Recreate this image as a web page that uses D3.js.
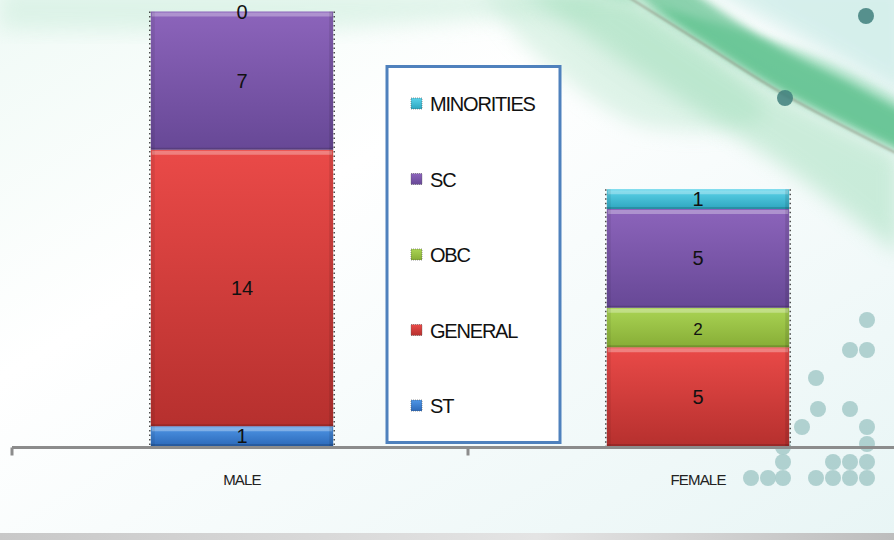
<!DOCTYPE html>
<html>
<head>
<meta charset="utf-8">
<script src="https://cdn.jsdelivr.net/npm/d3@7"></script>
<style>
  body { margin: 0; background: #fff; }
  svg { display: block; font-family: "Liberation Sans", Arial, sans-serif; }
</style>
</head>
<body>
<div id="chart"></div>
<script>
// chart data
const categories = ["MALE", "FEMALE"];
const groups = ["ST", "GENERAL", "OBC", "SC", "MINORITIES"];   // bottom to top
const stValues = [1, null];
const generalValues = [14, 5];
const obcValues = [null, 2];
const scValues = [7, 5];
const minorityValues = [0, 1];

const seriesValues = [stValues, generalValues, obcValues, scValues, minorityValues];

const groupColors = {
  ST:         ["#4f96e6", "#2c69b9"],
  GENERAL:    ["#ea4a48", "#b6302e"],
  OBC:        ["#aad454", "#87ad36"],
  SC:         ["#8c64bb", "#674896"],
  MINORITIES: ["#5cd3ea", "#2ea6bf"]
};

const width = 894, height = 540;

const svg = d3.select("#chart").append("svg")
  .attr("width", width)
  .attr("height", height);

const defs = svg.append("defs");

// ---- background ----
const bg = defs.append("linearGradient").attr("id", "bg")
  .attr("x1", 0).attr("y1", 0).attr("x2", 1).attr("y2", 1);
bg.append("stop").attr("offset", "0%").attr("stop-color", "#f0faf6");
bg.append("stop").attr("offset", "35%").attr("stop-color", "#ffffff");
bg.append("stop").attr("offset", "100%").attr("stop-color", "#e8f5f5");

svg.append("rect").attr("width", width).attr("height", height).attr("fill", "url(#bg)");

function blurFilter(id, sd) {
  defs.append("filter").attr("id", id)
    .attr("x", "-30%").attr("y", "-30%").attr("width", "160%").attr("height", "160%")
    .append("feGaussianBlur").attr("stdDeviation", sd);
}
blurFilter("blur", 10);
blurFilter("blurMid", 4);
blurFilter("blurSmall", 1.2);

const curve = d3.line().curve(d3.curveCatmullRom);
// closed shape from a top edge and a bottom edge
function band(top, bottom) {
  return curve(top) + "L" + curve(bottom).slice(1) + "Z";
}

const swooshLine = [[625, -5], [700, 42], [785, 95], [900, 155]];

const swoosh = svg.append("g");
// pale teal wash in the upper right corner
swoosh.append("path")
  .attr("d", band([[690, -20], [795, 35], [910, 100]], [[910, -20], [690, -20]]))
  .attr("fill", "#d2eeea").attr("opacity", 0.9).attr("filter", "url(#blur)");
// faint green along the top-left edge
swoosh.append("path")
  .attr("d", band([[0, -10], [600, -10]], [[600, 10], [300, 30], [0, 30]]))
  .attr("fill", "#cfeede").attr("opacity", 0.6).attr("filter", "url(#blur)");
// soft green area left of the line
swoosh.append("path")
  .attr("d", band([[480, -10], [640, -10]], [[700, 45], [765, 115], [640, 125], [520, 40]]))
  .attr("fill", "#bfe8d2").attr("opacity", 0.5).attr("filter", "url(#blur)");
// wide light fan below the line
swoosh.append("path")
  .attr("d", band(swooshLine, [[900, 255], [795, 175], [650, 80], [520, -10]]))
  .attr("fill", "#8fd8ad").attr("opacity", 0.42).attr("filter", "url(#blur)");
// green haze above the line
swoosh.append("path")
  .attr("d", band([[580, -10], [705, 20], [825, 60], [910, 105]], [[910, 155], [785, 93], [700, 40], [620, -10]]))
  .attr("fill", "#6ccb99").attr("opacity", 0.45).attr("filter", "url(#blurMid)");
// saturated green band hugging the line
swoosh.append("path")
  .attr("d", band([[690, -10], [775, 45], [845, 80], [910, 115]], [[910, 155], [785, 93], [700, 40], [630, -10]]))
  .attr("fill", "#2fae6c").attr("opacity", 0.55).attr("filter", "url(#blurMid)");
// thin darker line
swoosh.append("path")
  .attr("d", curve(swooshLine))
  .attr("fill", "none").attr("stroke", "#7f7063").attr("stroke-width", 1.8)
  .attr("opacity", 0.55).attr("filter", "url(#blurSmall)");

// decorative dots
const darkDots = [[866, 16], [785, 98]];
svg.append("g").selectAll("circle").data(darkDots).join("circle")
  .attr("cx", d => d[0]).attr("cy", d => d[1]).attr("r", 8)
  .attr("fill", "#3f7f7c").attr("opacity", 0.85);

const lightDots = [
  [867, 320], [850, 350], [867, 350], [816, 378], [818, 409], [850, 409],
  [802, 427], [867, 427], [867, 444], [783, 447], [783, 462], [833, 462],
  [850, 462], [867, 462], [751, 478], [768, 478], [783, 478], [816, 478],
  [833, 478], [850, 478], [867, 478]
];
svg.append("g").selectAll("circle").data(lightDots).join("circle")
  .attr("cx", d => d[0]).attr("cy", d => d[1]).attr("r", 8)
  .attr("fill", "#a9cccb").attr("opacity", 0.9);

// bottom grey strip
const strip = defs.append("linearGradient").attr("id", "strip")
  .attr("x1", 0).attr("x2", 1);
strip.append("stop").attr("offset", "0%").attr("stop-color", "#c8c8c8");
strip.append("stop").attr("offset", "60%").attr("stop-color", "#e4e4e4");
strip.append("stop").attr("offset", "100%").attr("stop-color", "#bdbdbd");
svg.append("rect").attr("x", 0).attr("y", 533).attr("width", width).attr("height", 7)
  .attr("fill", "url(#strip)");

// ---- scales ----
const x = d3.scaleBand().domain(categories).range([12, 924]);
const y = d3.scaleLinear().domain([0, 22]).range([446, 11.5]);
const barW = x.bandwidth() * 0.4;
const barX = c => x(c) + (x.bandwidth() - barW) / 2 + 2;

const table = categories.map((c, i) => {
  const row = { category: c };
  groups.forEach((g, j) => { row[g] = seriesValues[j][i]; });
  return row;
});
const stacked = d3.stack().keys(groups).value((d, k) => d[k] || 0)(table);

// gradients per group
groups.forEach(g => {
  const lg = defs.append("linearGradient").attr("id", "grad-" + g)
    .attr("x1", 0).attr("y1", 0).attr("x2", 0).attr("y2", 1);
  lg.append("stop").attr("offset", "0%").attr("stop-color", groupColors[g][0]);
  lg.append("stop").attr("offset", "100%").attr("stop-color", groupColors[g][1]);
});

// ---- bars ----
const barsG = svg.append("g");
stacked.forEach(layer => {
  const g = layer.key;
  layer.forEach((seg, i) => {
    const v = seriesValues[groups.indexOf(g)][i];
    if (v === null || v === 0) return;
    const x0 = barX(categories[i]);
    const yTop = y(seg[1]), yBot = y(seg[0]);
    const h = yBot - yTop;
    const s = barsG.append("g");
    s.append("rect")
      .attr("x", x0).attr("y", yTop).attr("width", barW).attr("height", h)
      .attr("fill", "url(#grad-" + g + ")");
    // bevel highlights
    s.append("rect")
      .attr("x", x0 + 1).attr("y", yTop + 1).attr("width", barW - 2).attr("height", Math.min(4, h / 3))
      .attr("fill", "#ffffff").attr("opacity", 0.3);
    s.append("rect")
      .attr("x", x0).attr("y", yTop).attr("width", 4).attr("height", h)
      .attr("fill", "#000").attr("opacity", 0.07);
    s.append("rect")
      .attr("x", x0 + barW - 4).attr("y", yTop).attr("width", 4).attr("height", h)
      .attr("fill", "#000").attr("opacity", 0.1);
    s.append("rect")
      .attr("x", x0).attr("y", yBot - 2).attr("width", barW).attr("height", 2)
      .attr("fill", "#000").attr("opacity", 0.15);
  });
});

// dotted side borders of each bar
categories.forEach((c, i) => {
  const total = d3.max(stacked, l => l[i][1]);
  const x0 = barX(c);
  [x0 - 1, x0 + barW + 1].forEach(xx => {
    barsG.append("line")
      .attr("x1", xx).attr("x2", xx)
      .attr("y1", y(total)).attr("y2", y(0))
      .attr("stroke", "#222").attr("stroke-width", 1.2)
      .attr("stroke-dasharray", "1.5,3");
  });
});

// value labels
const labelsG = svg.append("g")
  .attr("font-size", 20).attr("fill", "#111").attr("text-anchor", "middle");
stacked.forEach(layer => {
  const g = layer.key;
  layer.forEach((seg, i) => {
    const v = seriesValues[groups.indexOf(g)][i];
    if (v === null) return;
    labelsG.append("text")
      .attr("x", barX(categories[i]) + barW / 2)
      .attr("y", (y(seg[0]) + y(seg[1])) / 2 + 7)
      .attr("font-size", g === "OBC" ? 17 : 20)
      .text(v);
  });
});

// ---- axis ----
const axisY = 447.5;
svg.append("line")
  .attr("x1", x.range()[0]).attr("x2", width)
  .attr("y1", axisY).attr("y2", axisY)
  .attr("stroke", "#8c8c8c").attr("stroke-width", 3);
const tickXs = categories.map(c => x(c));
svg.append("g").selectAll("line").data(tickXs).join("line")
  .attr("x1", d => d).attr("x2", d => d)
  .attr("y1", axisY).attr("y2", axisY + 8)
  .attr("stroke", "#8c8c8c").attr("stroke-width", 3);

svg.append("g").selectAll("text").data(categories).join("text")
  .attr("x", d => barX(d) + barW / 2)
  .attr("y", 485)
  .attr("text-anchor", "middle")
  .attr("font-size", 15)
  .attr("letter-spacing", -0.8)
  .attr("fill", "#222")
  .text(d => d);

// ---- legend ----
const legend = svg.append("g");
legend.append("rect")
  .attr("x", 387).attr("y", 66.5).attr("width", 173).attr("height", 376)
  .attr("fill", "#ffffff").attr("stroke", "#4f81bd").attr("stroke-width", 3);

const legendOrder = groups.slice().reverse();
const ly = d3.scalePoint().domain(legendOrder).range([104, 406]);
const items = legend.selectAll("g.item").data(legendOrder).join("g")
  .attr("class", "item")
  .attr("transform", d => `translate(411,${ly(d)})`);
items.append("rect")
  .attr("x", 0).attr("y", -6).attr("width", 11).attr("height", 11)
  .attr("fill", d => "url(#grad-" + d + ")")
  .attr("stroke", "#555").attr("stroke-width", 0.6).attr("stroke-dasharray", "1,1");
items.append("text")
  .attr("x", 19).attr("y", 7)
  .attr("font-size", 20)
  .attr("letter-spacing", -1.2)
  .attr("fill", "#111")
  .text(d => d);
</script>
</body>
</html>
